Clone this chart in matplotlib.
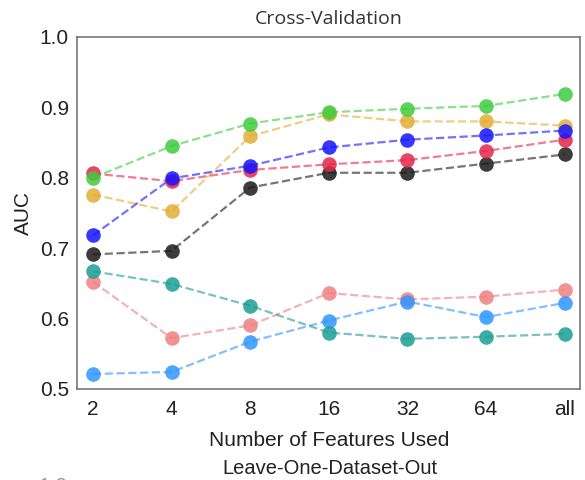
import matplotlib
matplotlib.use("Agg")
import matplotlib.pyplot as plt

# Feature-count categories on the x axis
features = ["2", "4", "8", "16", "32", "64", "all"]

# AUC per model for each feature count
auc_green = [0.800, 0.845, 0.877, 0.893, 0.898, 0.902, 0.919]
auc_gold = [0.776, 0.752, 0.859, 0.890, 0.880, 0.880, 0.874]
auc_blue = [0.718, 0.799, 0.817, 0.843, 0.854, 0.860, 0.867]
auc_red = [0.806, 0.795, 0.811, 0.819, 0.825, 0.838, 0.854]
auc_black = [0.691, 0.696, 0.786, 0.807, 0.807, 0.820, 0.833]
auc_teal = [0.667, 0.649, 0.618, 0.580, 0.571, 0.574, 0.578]
auc_salmon = [0.652, 0.572, 0.590, 0.636, 0.627, 0.631, 0.641]
auc_lightblue = [0.521, 0.524, 0.567, 0.597, 0.624, 0.602, 0.622]

series = [
    (auc_salmon, "#f08080"),
    (auc_lightblue, "#2f95ff"),
    (auc_teal, "#1a9e96"),
    (auc_black, "#1a1a1a"),
    (auc_gold, "#e3ad35"),
    (auc_red, "#e5264a"),
    (auc_blue, "#1414ff"),
    (auc_green, "#3fcc3f"),
]

fig = plt.figure(figsize=(5.85, 4.8), dpi=100)
ax = fig.add_axes([0.132, 0.190, 0.860, 0.733])

x = list(range(len(features)))
for vals, col in series:
    ax.plot(x, vals, linestyle="--", color=col, alpha=0.6, linewidth=1.6, zorder=2)
    ax.plot(x, vals, linestyle="none", marker="o", markersize=10.5,
            markerfacecolor=col, markeredgewidth=0, alpha=0.85, zorder=3)

ax.set_xlim(-0.2, 6.2)
ax.set_ylim(0.5, 1.0)
ax.set_xticks(x)
ax.set_xticklabels(features)
ax.set_yticks([0.5, 0.6, 0.7, 0.8, 0.9, 1.0])
ax.tick_params(length=0, labelsize=15, colors="#222222")
ax.tick_params(axis="y", pad=6)
ax.tick_params(axis="x", pad=8)
for lab in ax.get_xticklabels() + ax.get_yticklabels():
    lab.set_family("Liberation Sans")

for sp in ax.spines.values():
    sp.set_color("#777777")
    sp.set_linewidth(1.2)

ax.set_xlabel("Number of Features Used", fontsize=15, family="Liberation Sans",
              color="#222222", labelpad=9)
ax.set_ylabel("AUC", fontsize=15, family="Liberation Sans", color="#222222",
              labelpad=5)
ax.set_title("Cross-Validation", fontsize=14, family="Open Sans", color="#333333",
             pad=9)

# Title of the next panel below
fig.text(0.564, 1 - 468 / 480, "Leave-One-Dataset-Out", ha="center", va="center",
         fontsize=14.5, family="Liberation Sans", color="#222222")
fig.text(0.115, 2.5 / 480, "1.0", ha="right", va="top", fontsize=15,
         family="Liberation Sans", color="#999999")

fig.savefig("out.png", dpi=100)
